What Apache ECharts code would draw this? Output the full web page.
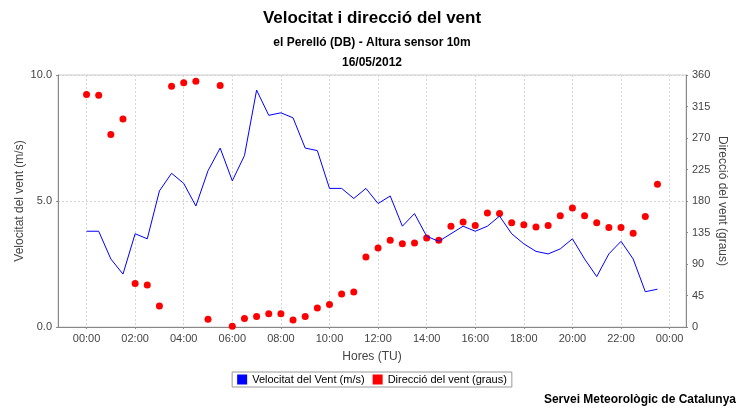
<!DOCTYPE html>
<html>
<head>
<meta charset="utf-8">
<script src="https://cdn.jsdelivr.net/npm/echarts@6/dist/echarts.min.js"></script>
<style>
  html, body { margin: 0; padding: 0; background: #fff; }
  #chart { width: 744px; height: 407px; }
</style>
</head>
<body>
<div id="chart"></div>
<script>
// half-hourly observations, 16/05/2012
const hores = [
  '00:00', '00:30', '01:00', '01:30', '02:00', '02:30', '03:00', '03:30',
  '04:00', '04:30', '05:00', '05:30', '06:00', '06:30', '07:00', '07:30',
  '08:00', '08:30', '09:00', '09:30', '10:00', '10:30', '11:00', '11:30',
  '12:00', '12:30', '13:00', '13:30', '14:00', '14:30', '15:00', '15:30',
  '16:00', '16:30', '17:00', '17:30', '18:00', '18:30', '19:00', '19:30',
  '20:00', '20:30', '21:00', '21:30', '22:00', '22:30', '23:00', '23:30'
]

// velocitat del vent (m/s)
const velocitat = [
  3.8, 3.8, 2.7, 2.1, 3.7, 3.5, 5.4, 6.1,
  5.7, 4.8, 6.2, 7.1, 5.8, 6.8, 9.4, 8.4,
  8.5, 8.3, 7.1, 7.0, 5.5, 5.5, 5.1, 5.5,
  4.9, 5.2, 4.0, 4.5, 3.6, 3.4, 3.7, 4.0,
  3.8, 4.0, 4.4, 3.7, 3.3, 3.0, 2.9, 3.1,
  3.5, 2.7, 2.0, 2.9, 3.4, 2.7, 1.4, 1.5
]

// direcció del vent (graus)
const direccio = [
  332, 331, 275, 297, 62, 60, 30, 344,
  349, 351, 11, 345, 1, 12, 15, 19,
  19, 10, 15, 27, 32, 47, 50, 100,
  113, 124, 119, 120, 127, 124, 144, 150,
  145, 163, 162, 149, 146, 143, 145, 159,
  170, 159, 149, 142, 142, 134, 158, 204
]

const etiquetesX = [0, 2, 4, 6, 8, 10, 12, 14, 16, 18, 20, 22, 24]

const toHour = s => {
  const [h, m] = s.split(':').map(Number)
  return h + m / 60
}

const chart = echarts.init(document.getElementById('chart'))

const axisText = { color: '#444', fontSize: 11, fontFamily: 'Liberation Sans' }
const nameText = { color: '#444', fontSize: 12, fontFamily: 'Liberation Sans' }
const gridLine = { show: true, lineStyle: { color: '#d4d4d4', type: [2, 2], width: 1 } }

chart.setOption({
  backgroundColor: '#fff',
  animation: false,
  title: [
    {
      text: 'Velocitat i direcció del vent',
      left: 'center', top: 5,
      textStyle: { fontSize: 17, fontWeight: 'bold', color: '#000', fontFamily: 'Liberation Sans' }
    },
    {
      text: 'el Perelló (DB) - Altura sensor 10m',
      left: 'center', top: 32,
      textStyle: { fontSize: 12, fontWeight: 'bold', color: '#000', fontFamily: 'Liberation Sans' }
    },
    {
      text: '16/05/2012',
      left: 'center', top: 52,
      textStyle: { fontSize: 12, fontWeight: 'bold', color: '#000', fontFamily: 'Liberation Sans' }
    },
    {
      text: 'Servei Meteorològic de Catalunya',
      right: 3, top: 389,
      textStyle: { fontSize: 12, fontWeight: 'bold', color: '#000', fontFamily: 'Liberation Sans' }
    }
  ],
  legend: {
    left: 'center', top: 372,
    orient: 'horizontal',
    borderColor: '#999', borderWidth: 1,
    padding: [2, 5],
    itemGap: 8,
    itemWidth: 10, itemHeight: 10,
    icon: 'rect',
    textStyle: { color: '#000', fontSize: 11, fontFamily: 'Liberation Sans' },
    data: ['Velocitat del Vent (m/s)', 'Direcció del vent (graus)']
  },
  grid: {
    left: 58, right: 58, top: 75, bottom: 80,
    show: true, borderColor: '#ccc', borderWidth: 1
  },
  xAxis: {
    type: 'value',
    min: -1.175, max: 24.675,
    name: 'Hores (TU)',
    nameLocation: 'middle',
    nameGap: 24,
    nameTextStyle: nameText,
    axisLine: { onZero: false, lineStyle: { color: '#888' } },
    axisTick: { show: true, length: 2, lineStyle: { color: '#888' }, customValues: etiquetesX },
    axisLabel: Object.assign({}, axisText, {
      customValues: etiquetesX,
      margin: 6,
      formatter: v => String(Math.round(v) % 24).padStart(2, '0') + ':00'
    }),
    splitLine: gridLine
  },
  yAxis: [
    {
      type: 'value',
      min: 0, max: 10, interval: 5,
      name: 'Velocitat del vent (m/s)',
      nameLocation: 'middle',
      nameGap: 32,
      nameMoveOverlap: false,
      nameTextStyle: nameText,
      axisLine: { show: true, onZero: false, lineStyle: { color: '#888' } },
      axisTick: { show: true, length: 2, lineStyle: { color: '#888' } },
      axisLabel: Object.assign({}, axisText, { margin: 6, formatter: v => v.toFixed(1) }),
      splitLine: gridLine
    },
    {
      type: 'value',
      position: 'right',
      min: 0, max: 360, interval: 45,
      name: 'Direcció del vent (graus)',
      nameLocation: 'middle',
      nameRotate: -90,
      nameGap: 30,
      nameMoveOverlap: false,
      nameTextStyle: nameText,
      axisLine: { show: true, onZero: false, lineStyle: { color: '#888' } },
      axisTick: { show: true, length: 2, lineStyle: { color: '#888' } },
      axisLabel: Object.assign({}, axisText, { margin: 6 }),
      splitLine: { show: false }
    }
  ],
  series: [
    {
      name: 'Velocitat del Vent (m/s)',
      type: 'line',
      yAxisIndex: 0,
      showSymbol: false,
      symbol: 'none',
      lineStyle: { color: '#0000ff', width: 1 },
      itemStyle: { color: '#0000ff' },
      data: hores.map((h, i) => [toHour(h), velocitat[i]])
    },
    {
      name: 'Direcció del vent (graus)',
      type: 'scatter',
      yAxisIndex: 1,
      symbolSize: 7,
      itemStyle: { color: '#ff0000', opacity: 1 },
      data: hores.map((h, i) => [toHour(h), direccio[i]])
    }
  ]
})
</script>
</body>
</html>
